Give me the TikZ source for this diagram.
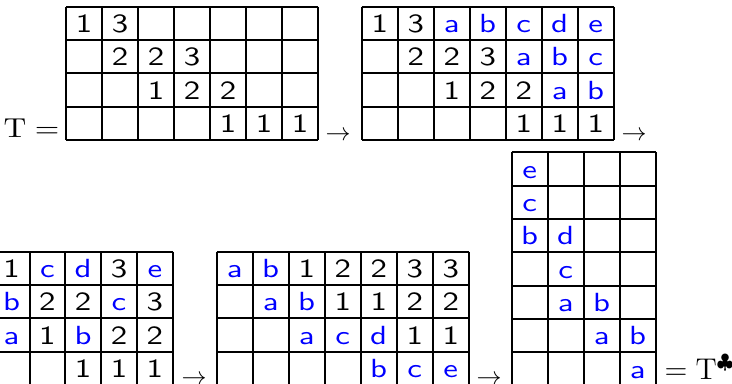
\documentclass[tikz,border=0pt]{standalone}
\usepackage{amssymb}
\usepackage{graphicx}
\newcommand\wide[1]{\scalebox{1.25}[1]{#1}}

\begin{document}
\begin{tikzpicture}[x=0.4pt, y=-0.4pt,
        box/.style={line width=0.8pt},
        num/.style={anchor=base, inner sep=0pt, font=\fontsize{10.5}{12}\sffamily},
        let/.style={num, text=blue},
        sym/.style={anchor=base west, inner sep=0pt}
    ]
    \useasboundingbox (0,0) rectangle (732,383);

    % T
    \begin{scope}[shift={(66,6.7)}]
        \foreach \i in {0,...,7} \draw[box] (\i*36,0) -- (\i*36,133.3);
        \foreach \j in {0,...,4} \draw[box] (0,\j*33.33) -- (252,\j*33.33);
        \foreach \col/\row/\val in {1/1/1, 2/1/3, 2/2/2, 3/2/2, 4/2/3, 3/3/1, 4/3/2, 5/3/2, 5/4/1, 6/4/1, 7/4/1}
            \node[num] (a-\row-\col) at (\col*36-18,\row*33.33-7.5) {\wide{\val}};
    \end{scope}
    \node[anchor=base east, inner sep=0pt, font=\fontsize{10.5}{12}\selectfont] (teq) at (60,137) {\scalebox{1.15}[1]{$\mathrm{T}=$}};
    \node[sym] (ar1) at (325,140) {$\rightarrow$};

    % step 1
    \begin{scope}[shift={(361.7,6.7)}]
        \foreach \i in {0,...,7} \draw[box] (\i*36,0) -- (\i*36,133.3);
        \foreach \j in {0,...,4} \draw[box] (0,\j*33.33) -- (252,\j*33.33);
        \foreach \col/\row/\val in {1/1/1, 2/1/3, 2/2/2, 3/2/2, 4/2/3, 3/3/1, 4/3/2, 5/3/2, 5/4/1, 6/4/1, 7/4/1}
            \node[num] (b-\row-\col) at (\col*36-18,\row*33.33-7.5) {\wide{\val}};
        \foreach \col/\row/\val in {3/1/a, 4/1/b, 5/1/c, 6/1/d, 7/1/e, 5/2/a, 6/2/b, 7/2/c, 6/3/a, 7/3/b}
            \node[let] (b-\row-\col) at (\col*36-18,\row*33.33-7.5) {\wide{\val}};
    \end{scope}
    \node[sym] (ar2) at (621,140) {$\rightarrow$};

    % step 2
    \begin{scope}[shift={(-6.3,251.7)}]
        \foreach \i in {0,...,5} \draw[box] (\i*35.8,0) -- (\i*35.8,133.3);
        \foreach \j in {0,...,4} \draw[box] (0,\j*33.33) -- (179,\j*33.33);
        \foreach \col/\row/\val in {1/1/1, 4/1/3, 2/2/2, 3/2/2, 5/2/3, 2/3/1, 4/3/2, 5/3/2, 3/4/1, 4/4/1, 5/4/1}
            \node[num] (c-\row-\col) at (\col*35.8-17.9,\row*33.33-7.5) {\wide{\val}};
        \foreach \col/\row/\val in {2/1/c, 3/1/d, 5/1/e, 1/2/b, 4/2/c, 1/3/a, 3/3/b}
            \node[let] (c-\row-\col) at (\col*35.8-17.9,\row*33.33-7.5) {\wide{\val}};
    \end{scope}
    \node[sym] (ar3) at (181,384) {$\rightarrow$};

    % step 3
    \begin{scope}[shift={(216.7,251.7)}]
        \foreach \i in {0,...,7} \draw[box] (\i*36,0) -- (\i*36,133.3);
        \foreach \j in {0,...,4} \draw[box] (0,\j*33.33) -- (252,\j*33.33);
        \foreach \col/\row/\val in {3/1/1, 4/1/2, 5/1/2, 6/1/3, 7/1/3, 4/2/1, 5/2/1, 6/2/2, 7/2/2, 6/3/1, 7/3/1}
            \node[num] (d-\row-\col) at (\col*36-18,\row*33.33-7.5) {\wide{\val}};
        \foreach \col/\row/\val in {1/1/a, 2/1/b, 2/2/a, 3/2/b, 3/3/a, 4/3/c, 5/3/d, 5/4/b, 6/4/c, 7/4/e}
            \node[let] (d-\row-\col) at (\col*36-18,\row*33.33-7.5) {\wide{\val}};
    \end{scope}
    \node[sym] (ar4) at (476,384) {$\rightarrow$};

    % T club
    \begin{scope}[shift={(511.7,152.3)}]
        \foreach \i in {0,...,4} \draw[box] (\i*36,0) -- (\i*36,233.3);
        \foreach \j in {0,...,7} \draw[box] (0,\j*33.33) -- (144,\j*33.33);
        \foreach \col/\row/\val in {1/1/e, 1/2/c, 1/3/b, 2/3/d, 2/4/c, 2/5/a, 3/5/b, 3/6/a, 4/6/b, 4/7/a}
            \node[let] (e-\row-\col) at (\col*36-18,\row*33.33-7.5) {\wide{\val}};
    \end{scope}
    \node[sym, font=\fontsize{12}{14}\selectfont] (tclub) at (664,379) {$=\mathrm{T}^\clubsuit$};
\end{tikzpicture}
\end{document}
